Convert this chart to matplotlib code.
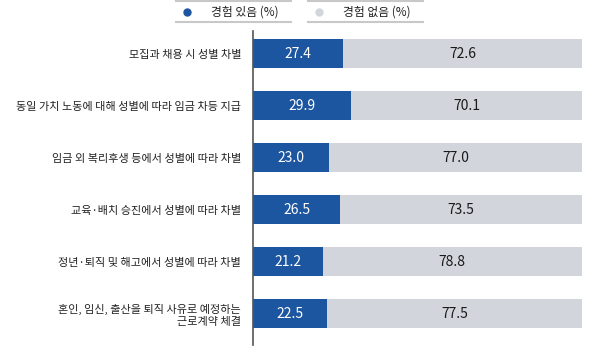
import matplotlib
matplotlib.use("Agg")
import matplotlib.pyplot as plt
from matplotlib.lines import Line2D

plt.rcParams['font.family'] = ['Noto Sans CJK KR', 'DejaVu Sans']

categories = [
    "모집과 채용 시 성별 차별",
    "동일 가치 노동에 대해 성별에 따라 임금 차등 지급",
    "임금 외 복리후생 등에서 성별에 따라 차별",
    "교육·배치 승진에서 성별에 따라 차별",
    "정년·퇴직 및 해고에서 성별에 따라 차별",
    "혼인, 임신, 출산을 퇴직 사유로 예정하는\n근로계약 체결",
]
yes_vals = [27.4, 29.9, 23.0, 26.5, 21.2, 22.5]
no_vals = [72.6, 70.1, 77.0, 73.5, 78.8, 77.5]
legend_labels = ["경험 있음 (%)", "경험 없음 (%)"]

blue = "#1d56a0"
gray = "#d2d5db"

fig = plt.figure(figsize=(5.89, 3.56), dpi=100)
ax = fig.add_axes([253 / 589, 11 / 356, 329 / 589, 314 / 356])

y = range(len(categories))
ax.barh(y, yes_vals, height=0.56, color=blue)
ax.barh(y, no_vals, left=yes_vals, height=0.56, color=gray)

for i, (a, b) in enumerate(zip(yes_vals, no_vals)):
    ax.text(a / 2, i, f"{a:.1f}", ha="center", va="center", color="white", fontsize=10)
    ax.text(a + b / 2, i, f"{b:.1f}", ha="center", va="center", color="#1a1a1a", fontsize=10)

ax.set_xlim(0, 100)
ax.set_ylim(5.6, -0.44)
ax.set_yticks(list(y))
ax.set_yticklabels(categories, fontsize=8.0, color="#222222", linespacing=1.15)
ax.tick_params(axis="y", length=0, pad=8.5)
ax.set_xticks([])
for s in ["top", "right", "bottom"]:
    ax.spines[s].set_visible(False)
ax.spines["left"].set_color("#555555")
ax.spines["left"].set_linewidth(1.2)

# legend drawn by hand: dot, label, gray rules above and below
items = [(176, 291, blue), (308, 423, gray)]
for (x0, x1, c), lab in zip(items, legend_labels):
    for yy in [1, 22]:
        fig.add_artist(Line2D([x0 / 589, x1 / 589], [1 - yy / 356] * 2,
                              color="#c8c8c8", lw=1.5))
    fig.add_artist(Line2D([(x0 + 11) / 589], [1 - 12 / 356], marker="o",
                          markersize=5, color=c, lw=0))
    fig.text((x0 + x1) / 2 / 589 + 0.02, 1 - 12 / 356, lab, ha="center",
             va="center", fontsize=8.5, color="#222222")

fig.savefig("out.png", dpi=100)
